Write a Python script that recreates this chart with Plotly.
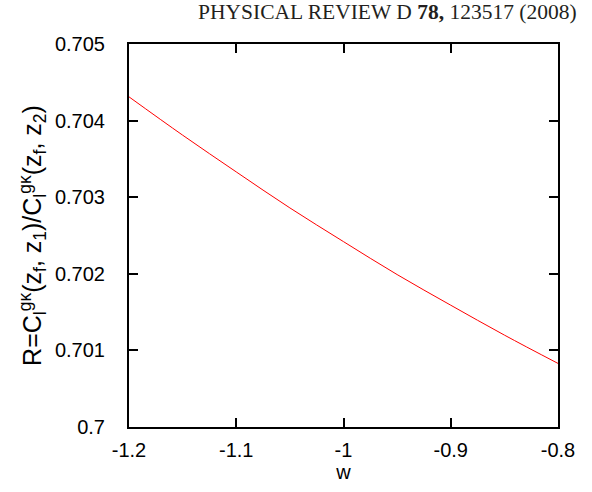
import plotly.graph_objects as go

w_values = [-1.2, -1.15, -1.1, -1.05, -1.0, -0.95, -0.9, -0.85, -0.8]
r_values = [0.70431, 0.70381, 0.70333, 0.70286, 0.70242, 0.70199, 0.70159, 0.70120, 0.70083]
x_ticks = [-1.2, -1.1, -1.0, -0.9, -0.8]
x_tick_labels = ["-1.2", "-1.1", "-1", "-0.9", "-0.8"]
y_ticks = [0.700, 0.701, 0.702, 0.703, 0.704, 0.705]
y_tick_labels = ["0.7", "0.701", "0.702", "0.703", "0.704", "0.705"]

FONT = "Liberation Sans, Arial, sans-serif"

fig = go.Figure()
fig.add_trace(go.Scatter(x=w_values, y=r_values, mode="lines",
                         line=dict(color="#ff0000", width=1, shape="spline"),
                         showlegend=False))

axis_common = dict(showline=True, linecolor="black", linewidth=2, mirror="ticks",
                   ticks="inside", ticklen=9, tickwidth=1.5, tickcolor="black",
                   showgrid=False, zeroline=False,
                   tickfont=dict(family=FONT, size=20, color="black"))

ytitle = ("R=C<sub>l</sub><sup>gκ</sup>(z<sub>f</sub>, z<sub>1</sub>)/"
          "C<sub>l</sub><sup>gκ</sup>(z<sub>f</sub>, z<sub>2</sub>)")

fig.update_xaxes(range=[-1.2, -0.8], tickvals=x_ticks, ticktext=x_tick_labels,
                 ticklabelstandoff=4,
                 title=dict(text="w", font=dict(family=FONT, size=20, color="black"),
                            standoff=4),
                 **axis_common)
fig.update_yaxes(range=[0.7, 0.705], tickvals=y_ticks, ticktext=y_tick_labels,
                 ticklabelstandoff=18,
                 title=dict(text=ytitle,
                            font=dict(family=FONT, size=25, color="black"),
                            standoff=6),
                 **axis_common)

fig.update_layout(
    width=592, height=492,
    margin=dict(l=129, r=34, t=44, b=65),
    paper_bgcolor="white", plot_bgcolor="white",
    annotations=[dict(text="PHYSICAL REVIEW D <b>78,</b> 123517 (2008)",
                      xref="paper", yref="paper", x=1.048, y=1.0, yshift=32,
                      xanchor="right", yanchor="middle", showarrow=False,
                      font=dict(family="Liberation Serif, Times New Roman, serif", size=21.5, color="#231f20"))],
)

fig.write_html("out.html", config={"displayModeBar": False},
               post_script="document.body.style.margin='0';")
